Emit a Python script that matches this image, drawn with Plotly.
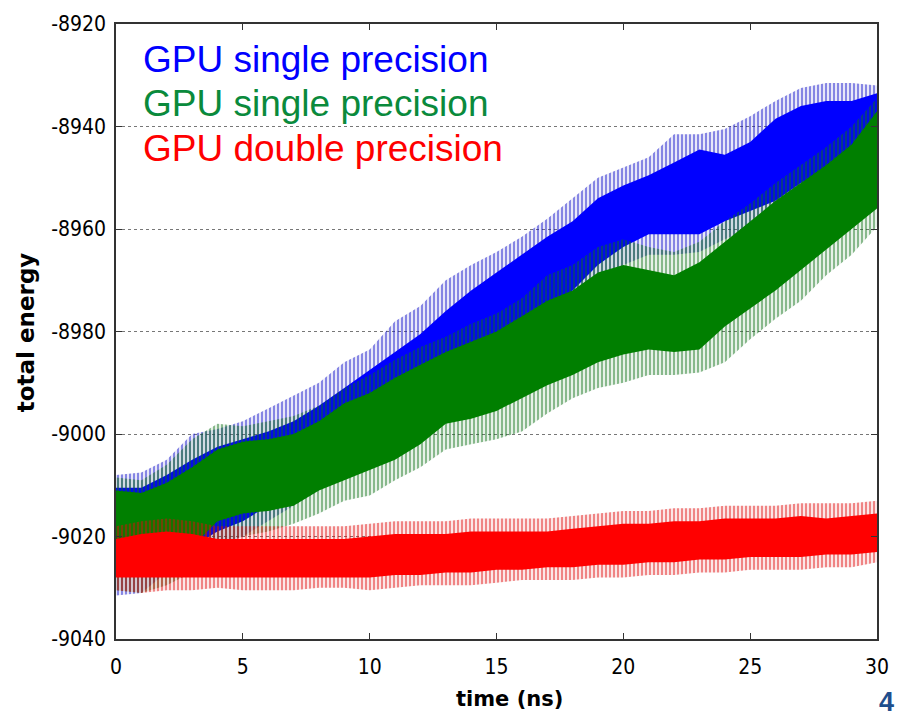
import plotly.graph_objects as go
import numpy as np

# ---------------- data ----------------
time_ns = list(range(31))

blue_top = [-9010.5, -9010.5, -9008, -9005, -9002.5, -9001, -8999.5, -8997.5, -8994.5, -8991,
            -8987.5, -8984, -8980.5, -8976, -8972, -8968.5, -8965, -8961.5, -8958.5, -8954,
            -8951.5, -8949.5, -8947, -8944.5, -8945.5, -8943, -8938.5, -8936, -8935, -8935, -8933.5]
blue_top_spk = [-9008, -9007.5, -9005, -9000, -8999, -8997.5, -8995, -8992.5, -8990, -8986,
                -8983.5, -8978, -8975, -8970, -8967, -8964.5, -8961.5, -8958, -8954, -8950,
                -8948, -8946, -8941.5, -8941.5, -8940.5, -8938, -8935, -8932.5, -8931.5, -8931.5, -8932]
blue_bot = [-9027, -9026, -9024, -9022, -9019, -9017, -9014, -9011, -9008, -9005,
            -9002, -8999, -8996, -8992, -8987.5, -8983, -8980, -8976.5, -8972, -8967,
            -8963.5, -8961, -8961, -8961, -8958.5, -8956.5, -8954.5, -8951, -8948.5, -8946.5, -8942]
blue_bot_spk = [-9031.5, -9031, -9027, -9025, -9022, -9020, -9017, -9014, -9011, -9008,
                -9005, -9002, -8999, -8995, -8990.5, -8986, -8983, -8980, -8975.5, -8970.5,
                -8967, -8965, -8965, -8964.5, -8962, -8960, -8958, -8954.5, -8952, -8950, -8946]

green_top = [-9011, -9011.5, -9009.5, -9006.5, -9003, -9001.5, -9001, -9000, -8997.5, -8994,
             -8992, -8989, -8986.5, -8984, -8982, -8980, -8977, -8974, -8972, -8968.5,
             -8967, -8968, -8969, -8966.5, -8962.5, -8958.5, -8954.5, -8951, -8947.5, -8943.5, -8937]
green_top_spk = [-9008.5, -9009, -9006, -9001, -8998, -8998.5, -8997.5, -8996.5, -8994.5, -8991,
                 -8988.5, -8985.5, -8983, -8981, -8978.5, -8976.5, -8973.5, -8969, -8967, -8963.5,
                 -8962, -8963.5, -8964.5, -8962.5, -8958.5, -8955, -8951, -8947.5, -8944, -8940, -8934.5]
green_bot = [-9025, -9025, -9024, -9022, -9017, -9015.5, -9015, -9014, -9011, -9009,
             -9007, -9005, -9002, -8998, -8997, -8995.5, -8993, -8990.5, -8988.5, -8986,
             -8984.5, -8983.5, -8984, -8983.5, -8979, -8975.5, -8972, -8968, -8964, -8960, -8956]
green_bot_spk = [-9030.5, -9031, -9029.5, -9027, -9021.5, -9020, -9019, -9017.5, -9015.5, -9013,
                 -9012, -9009, -9006.5, -9003, -9002, -9001, -8999.5, -8996, -8993, -8991,
                 -8990, -8988.5, -8988.5, -8988, -8986, -8981.5, -8977.5, -8974, -8969, -8965, -8959.5]

red_top = [-9020.5, -9019.5, -9019, -9019.5, -9020.5, -9020.5, -9020.5, -9020.5, -9020.5, -9020.5,
           -9020, -9019.5, -9019.5, -9019.5, -9019, -9019, -9019, -9019, -9018.5, -9018,
           -9017.5, -9017.5, -9017, -9017, -9016.5, -9016.5, -9016.5, -9016, -9016.5, -9016, -9015.5]
red_top_spk = [-9018, -9017, -9016.5, -9017, -9018, -9018, -9018, -9018, -9018, -9018,
               -9017.5, -9017, -9017, -9017, -9016.5, -9016.5, -9016.5, -9016.5, -9016, -9015.5,
               -9015, -9015, -9014.5, -9014.5, -9014, -9014, -9014, -9013.5, -9013.5, -9013.5, -9013]
red_bot = [-9028, -9028, -9028, -9028, -9028, -9028, -9028, -9028, -9028, -9028,
           -9028, -9027.5, -9027.5, -9027, -9027, -9026.5, -9026.5, -9026, -9026, -9025.5,
           -9025.5, -9025, -9025, -9024.5, -9024.5, -9024, -9024, -9024, -9023.5, -9023.5, -9023]
red_bot_spk = [-9030.5, -9031, -9030.5, -9030.5, -9030, -9030.5, -9030.5, -9030.5, -9030, -9030,
               -9030.5, -9030, -9029.5, -9029.5, -9029.5, -9029, -9028.5, -9028.5, -9028.5, -9028,
               -9028, -9027.5, -9027.5, -9027, -9027, -9026.5, -9026.5, -9026.5, -9026, -9026, -9025]

legend_labels = ["GPU single precision", "GPU single precision", "GPU double precision"]
x_ticks = [0, 5, 10, 15, 20, 25, 30]
y_ticks = [-9040, -9020, -9000, -8980, -8960, -8940, -8920]

# ---------------- figure ----------------
fig = go.Figure()


def band(x, top, bot, color, pattern=None):
    xs = np.concatenate([np.array(x), np.array(x)[::-1]])
    ys = np.concatenate([np.array(top), np.array(bot)[::-1]])
    kw = {}
    if pattern is not None:
        kw["fillpattern"] = pattern
        kw["fillcolor"] = "rgba(0,0,0,0)"
    else:
        kw["fillcolor"] = color
    return go.Scatter(x=xs, y=ys, mode="lines", fill="toself",
                      line=dict(width=0), hoverinfo="skip", showlegend=False, **kw)


series = [
    (blue_top_spk, blue_bot_spk, blue_top, blue_bot, "#0b0bc8", "#0000FF"),
    (green_top_spk, green_bot_spk, green_top, green_bot, "#0f7218", "#007F00"),
    (red_top_spk, red_bot_spk, red_top, red_bot, "#e00a0a", "#FF0000"),
]
for ts, bs, td, bd, cspk, cden in series:
    fig.add_trace(band(time_ns, ts, bs, None,
                       pattern=dict(shape="|", fgcolor=cspk, bgcolor="rgba(0,0,0,0)",
                                    size=4, solidity=0.6, fillmode="overlay")))
    fig.add_trace(band(time_ns, td, bd, cden))

L, R, T, B = 116, 879, 16, 639
W, H = 901, 719


def px(xp):
    return (xp - L) / (R - L)


def py(yp):
    return (B - yp) / (B - T)


text_colors = ["#0000FF", "#0A8A3C", "#FF0000"]
text_y = [52, 97, 142]
for lab, col, yy in zip(legend_labels, text_colors, text_y):
    fig.add_annotation(text=lab, xref="paper", yref="paper", x=px(141), y=py(yy),
                       xanchor="left", yanchor="middle", showarrow=False,
                       font=dict(family="Liberation Sans, Arial", size=37, color=col))

fig.add_annotation(text="<b>total energy</b>", xref="paper", yref="paper",
                   x=px(26), y=py(328), textangle=-90, showarrow=False,
                   xanchor="center", yanchor="middle",
                   font=dict(family="DejaVu Sans", size=23, color="black"))
fig.add_annotation(text="<b>time (ns)</b>", xref="paper", yref="paper",
                   x=px(511), y=py(700), showarrow=False,
                   xanchor="center", yanchor="middle",
                   font=dict(family="DejaVu Sans", size=21, color="black"))
fig.add_annotation(text="<b>4</b>", xref="paper", yref="paper",
                   x=px(880), y=py(719), showarrow=False,
                   xanchor="left", yanchor="bottom", borderpad=0,
                   font=dict(family="Liberation Sans, Arial", size=27, color="#1F4E8C"))

axis_font = dict(family="DejaVu Sans Condensed, DejaVu Sans", size=21, color="black")
fig.update_xaxes(range=[0, 30], tickvals=x_ticks, ticktext=[str(v) for v in x_ticks],
                 ticks="inside", ticklen=6, tickcolor="#333", showline=True,
                 linecolor="#333", linewidth=1.5, mirror="ticks", showgrid=False,
                 zeroline=False, tickfont=axis_font, ticklabelstandoff=8)
fig.update_yaxes(range=[-9040, -8920], tickvals=y_ticks, ticktext=[str(v) for v in y_ticks],
                 ticks="inside", ticklen=6, tickcolor="#333", showline=True,
                 linecolor="#333", linewidth=1.5, mirror="ticks", showgrid=True,
                 gridcolor="#777", griddash="dot", gridwidth=1,
                 zeroline=False, tickfont=axis_font, ticklabelstandoff=4)

fig.update_layout(width=W, height=H, margin=dict(l=L, r=W - R, t=T, b=H - B),
                  plot_bgcolor="white", paper_bgcolor="white", showlegend=False)

fig.write_html("out.html")
